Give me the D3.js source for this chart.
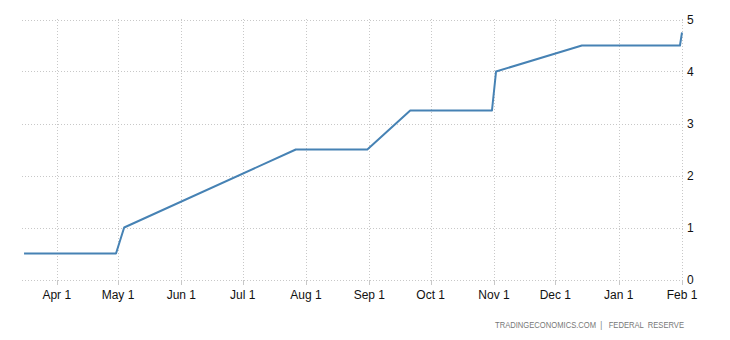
<!DOCTYPE html>
<html lang="en">
<head>
<meta charset="utf-8">
<script src="https://d3js.org/d3.v7.min.js"></script>
<style>
  body { margin: 0; background: #fff; }
  svg { display: block; font-family: "Segoe UI", "Liberation Sans", Arial, sans-serif; }
</style>
</head>
<body>
<svg width="730" height="340"></svg>
<script>
// Fed funds rate (upper bound), Mar 2022 - Feb 2023
var dates = ["2022-03-16", "2022-04-30", "2022-05-04", "2022-07-27", "2022-08-31",
             "2022-09-21", "2022-10-31", "2022-11-02", "2022-12-14", "2023-01-31", "2023-02-01"];
var rates = [0.5, 0.5, 1.0, 2.5, 2.5, 3.25, 3.25, 4.0, 4.5, 4.5, 4.75];
var tickDates = ["2022-04-01", "2022-05-01", "2022-06-01", "2022-07-01", "2022-08-01", "2022-09-01",
                 "2022-10-01", "2022-11-01", "2022-12-01", "2023-01-01", "2023-02-01"];
var yTicks = [0, 1, 2, 3, 4, 5];

var parse = d3.utcParse("%Y-%m-%d");
var data = dates.map(function(d, i) { return { date: parse(d), value: rates[i] }; });
var ticks = tickDates.map(parse);

var svg = d3.select("svg");

var x = d3.scaleUtc()
    .domain([parse("2022-03-15"), parse("2023-02-01")])
    .range([22, 682]);
var y = d3.scaleLinear().domain([0, 5]).range([279.5, 19.5]);

// horizontal grid
svg.append("g")
  .selectAll("line")
  .data(yTicks.slice(1))
  .enter().append("line")
  .attr("x1", 22).attr("x2", 684)
  .attr("y1", function(d) { return Math.round(y(d)) + 0.5; })
  .attr("y2", function(d) { return Math.round(y(d)) + 0.5; })
  .attr("stroke", "#c8c8c8")
  .attr("stroke-dasharray", "1,2");

// vertical grid
svg.append("g")
  .selectAll("line")
  .data(ticks)
  .enter().append("line")
  .attr("x1", function(d) { return Math.round(x(d)) + 0.5; })
  .attr("x2", function(d) { return Math.round(x(d)) + 0.5; })
  .attr("y1", 19).attr("y2", 279)
  .attr("stroke", "#c8c8c8")
  .attr("stroke-dasharray", "1,2");

// baseline + ticks
svg.append("line")
  .attr("x1", 22).attr("x2", 684)
  .attr("y1", 280.5).attr("y2", 280.5)
  .attr("stroke", "#c8c8c8")
  .attr("stroke-dasharray", "1,2");

svg.append("g")
  .selectAll("line")
  .data(ticks)
  .enter().append("line")
  .attr("x1", function(d) { return Math.round(x(d)) + 0.5; })
  .attr("x2", function(d) { return Math.round(x(d)) + 0.5; })
  .attr("y1", 280).attr("y2", 285)
  .attr("stroke", "#c8c8c8");

// x labels
var fmt = d3.utcFormat("%b %-d");
svg.append("g")
  .selectAll("text")
  .data(ticks)
  .enter().append("text")
  .attr("x", function(d) { return x(d); })
  .attr("y", 299)
  .attr("text-anchor", "middle")
  .attr("font-size", "12px")
  .attr("fill", "#111")
  .text(function(d) { return fmt(d); });

// y labels
svg.append("g")
  .selectAll("text")
  .data(yTicks)
  .enter().append("text")
  .attr("x", 687)
  .attr("y", function(d) { return y(d) + 4; })
  .attr("font-size", "12px")
  .attr("fill", "#111")
  .text(function(d) { return d; });

// line
var line = d3.line()
    .x(function(d) { return x(d.date); })
    .y(function(d) { return y(d.value); });

svg.append("path")
  .datum(data)
  .attr("d", line)
  .attr("fill", "none")
  .attr("stroke", "#4682b4")
  .attr("stroke-width", 2)
  .attr("stroke-linejoin", "round");

// source
svg.append("text")
  .attr("x", 684)
  .attr("y", 328)
  .attr("text-anchor", "end")
  .attr("font-size", "8.5px")
  .attr("fill", "#777")
  .attr("textLength", 189)
  .attr("lengthAdjust", "spacingAndGlyphs")
  .attr("xml:space", "preserve")
  .text("TRADINGECONOMICS.COM  |   FEDERAL  RESERVE");
</script>
</body>
</html>
